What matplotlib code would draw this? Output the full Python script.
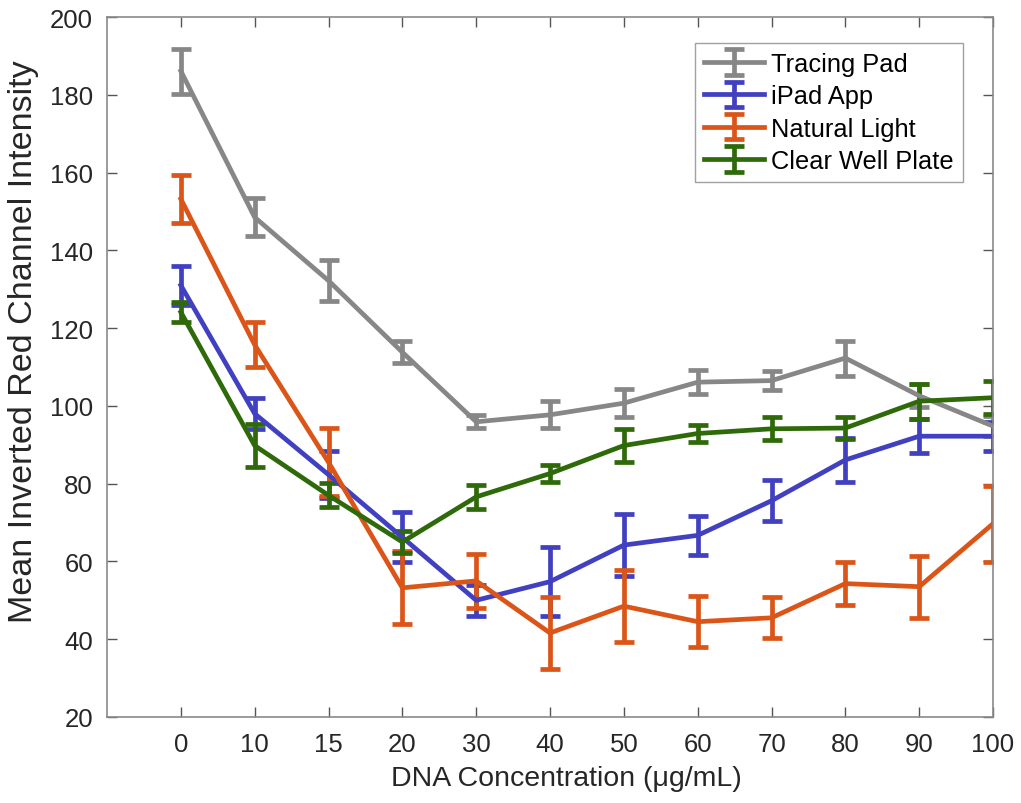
import numpy as np
import matplotlib.pyplot as plt

plt.rcParams['font.family'] = ['Liberation Sans', 'DejaVu Sans']

conc_labels = ['0', '10', '15', '20', '30', '40', '50', '60', '70', '80', '90', '100']

tracing_mean = [186.1, 148.5, 132.2, 113.8, 95.9, 97.7, 100.7, 106.1, 106.5, 112.3, 102.6, 94.8]
tracing_err = [5.8, 4.9, 5.3, 2.9, 1.7, 3.5, 3.6, 3.0, 2.5, 4.5, 3.0, 2.6]

ipad_mean = [131.0, 98.0, 82.3, 66.2, 50.0, 54.8, 64.2, 66.7, 75.6, 86.1, 92.2, 92.2]
ipad_err = [5.0, 4.0, 6.0, 6.4, 4.0, 8.8, 8.0, 5.0, 5.3, 5.6, 4.3, 3.7]

natural_mean = [153.2, 115.7, 85.5, 53.2, 55.0, 41.6, 48.5, 44.5, 45.5, 54.3, 53.5, 69.7]
natural_err = [6.2, 5.8, 8.8, 9.4, 7.0, 9.2, 9.2, 6.6, 5.3, 5.5, 8.0, 9.8]

clear_mean = [124.1, 89.8, 77.0, 65.0, 76.6, 82.6, 89.8, 92.9, 94.1, 94.3, 101.2, 102.1]
clear_err = [2.6, 5.5, 3.1, 2.8, 3.1, 2.2, 4.2, 2.3, 3.0, 2.9, 4.5, 4.2]

series = [
    ('Tracing Pad', tracing_mean, tracing_err, '#878787'),
    ('iPad App', ipad_mean, ipad_err, '#4040C0'),
    ('Natural Light', natural_mean, natural_err, '#DB5518'),
    ('Clear Well Plate', clear_mean, clear_err, '#2F6A0A'),
]

fig = plt.figure(figsize=(10.21, 8.04), dpi=100)
ax = fig.add_axes([0.1048, 0.107, 0.8678, 0.8706])

x = np.arange(len(conc_labels))
for name, m, e, c in series:
    ax.errorbar(x, m, yerr=e, color=c, lw=3.4, elinewidth=3.4,
                capsize=7.5, capthick=3.4, label=name)

ax.set_xlim(-1, 11)
ax.set_ylim(20, 200)
ax.set_xticks(x)
ax.set_xticklabels(conc_labels)
ax.set_yticks(np.arange(20, 201, 20))

txt = '#262626'
for s in ax.spines.values():
    s.set_color('#8a8a8a')
    s.set_linewidth(1.2)
ax.tick_params(direction='in', top=True, right=True, length=7, width=1,
               color='#555555', labelsize=18.5, labelcolor=txt)
ax.tick_params(axis='x', pad=11)
ax.tick_params(axis='y', pad=10)

ax.set_xlabel('DNA Concentration (\u03bcg/mL)', fontsize=20.5, color=txt)
ax.set_ylabel('Mean Inverted Red Channel Intensity', fontsize=24.5, color=txt)
ax.xaxis.set_label_coords(0.518, -0.068)
ax.yaxis.set_label_coords(-0.077, 0.537)

leg = ax.legend(loc='upper right', bbox_to_anchor=(0.966, 0.963), fontsize=18.3,
                frameon=True, fancybox=False, borderpad=0.35, labelspacing=0.33,
                handlelength=2.35, handletextpad=0.3, borderaxespad=0)
leg.get_frame().set_edgecolor('#8a8a8a')
leg.get_frame().set_linewidth(1.0)

fig.savefig('out.png', dpi=100)
